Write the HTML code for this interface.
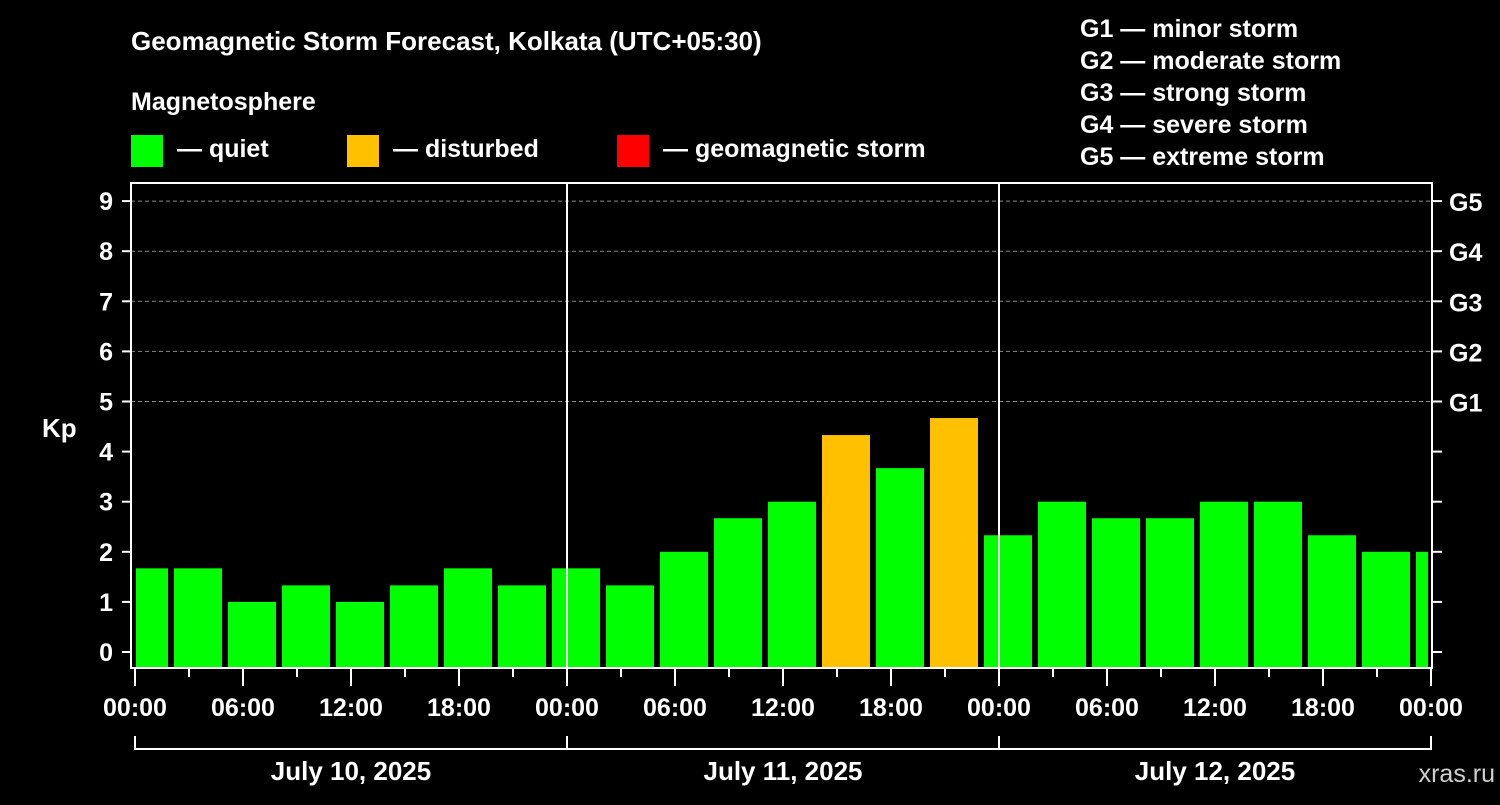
<!DOCTYPE html>
<html><head><meta charset="utf-8"><style>
body{margin:0;background:#000;}
svg text{font-family:"Liberation Sans",Arial,sans-serif;font-weight:bold;fill:#fff;}
</style></head><body>
<svg id="c" width="1500" height="800" xmlns="http://www.w3.org/2000/svg">
<rect width="1500" height="800" fill="#000"/>
<text x="131" y="50" font-size="26">Geomagnetic Storm Forecast, Kolkata (UTC+05:30)</text>
<text x="131" y="110" font-size="25">Magnetosphere</text>
<g><rect x="131" y="135" width="32" height="32" fill="#00ff00"/><text x="177" y="157" font-size="25">— quiet</text></g>
<g><rect x="347" y="135" width="32" height="32" fill="#ffc000"/><text x="393" y="157" font-size="25">— disturbed</text></g>
<g><rect x="617" y="135" width="32" height="32" fill="#ff0000"/><text x="663" y="157" font-size="25">— geomagnetic storm</text></g>
<g font-size="25">
<text x="1080" y="37">G1 — minor storm</text>
<text x="1080" y="69">G2 — moderate storm</text>
<text x="1080" y="101">G3 — strong storm</text>
<text x="1080" y="133">G4 — severe storm</text>
<text x="1080" y="165">G5 — extreme storm</text>
</g>
<text x="42" y="437" font-size="26">Kp</text>
<text x="1495" y="782" font-size="25" text-anchor="end" fill="#ccc" style="fill:#cfcfcf;font-weight:normal">xras.ru</text>
<g id="plot"></g>
</svg>
<script>
const kpValues=[1.67,1.67,1,1.33,1,1.33,1.67,1.33,1.67,1.33,2,2.67,3,4.33,3.67,4.67,2.33,3,2.67,2.67,3,3,2.33,2,2];
const kpLevels=[0,1,2,3,4,5,6,7,8,9];
const gLabels=[[5,'G1'],[6,'G2'],[7,'G3'],[8,'G4'],[9,'G5']];
const timeLabels=['00:00','06:00','12:00','18:00','00:00','06:00','12:00','18:00','00:00','06:00','12:00','18:00','00:00'];
const dayLabels=['July 10, 2025','July 11, 2025','July 12, 2025'];
const NS='http://www.w3.org/2000/svg';
const L=131,R=1432,T=183,B=668;
const x=h=>135+18*h;
const y=v=>652-50.1*v;
const g=document.getElementById('plot');
function mk(t,a){const e=document.createElementNS(NS,t);for(const k in a)e.setAttribute(k,a[k]);g.appendChild(e);return e;}
kpLevels.forEach(v=>{
  if(v>=5){const d=mk('line',{x1:L,x2:R,y1:y(v),y2:y(v),stroke:'#888','stroke-dasharray':'4,3','stroke-width':1});
  
  }
});
kpValues.forEach((v,i)=>{
  const h0=-1+3*i;let l=x(h0)+3,r=x(h0+3)-3;
  l=Math.max(l,136);r=Math.min(r,1428);
  const col=v>=5?'#ff0000':(v>=4?'#ffc000':'#00ff00');
  const b=mk('rect',{x:l,y:y(v),width:r-l,height:B-y(v),fill:col});
  
  
});
[1,2].forEach(d=>{const e=mk('line',{x1:x(24*d),x2:x(24*d),y1:T,y2:B,stroke:'#fff','stroke-width':2});

});
const fr=mk('rect',{x:L,y:T,width:R-L,height:B-T,fill:'none',stroke:'#fff','stroke-width':2});


kpLevels.forEach(v=>{
  mk('line',{x1:122,x2:L,y1:y(v),y2:y(v),stroke:'#fff','stroke-width':2});
  mk('line',{x1:R,x2:1442,y1:y(v),y2:y(v),stroke:'#fff','stroke-width':2});
  const t=mk('text',{x:113,y:y(v)+9,'font-size':25,'text-anchor':'end'});t.textContent=v;
  
  
});
gLabels.forEach(([v,s])=>{const t=mk('text',{x:1449,y:y(v)+10,'font-size':25});t.textContent=s;
  
  });
for(let h=0;h<=72;h+=3){mk('line',{x1:x(h),x2:x(h),y1:B,y2:h%6==0?686:677,stroke:'#fff','stroke-width':2});}
timeLabels.forEach((s,i)=>{const t=mk('text',{x:x(6*i),y:716,'font-size':25,'text-anchor':'middle'});t.textContent=s;
  
  });
dayLabels.forEach((s,i)=>{
  mk('path',{d:`M${x(24*i)},736V749H${x(24*i+24)}V736`,fill:'none',stroke:'#fff','stroke-width':2});
  const t=mk('text',{x:x(24*i+12),y:780,'font-size':26,'text-anchor':'middle'});t.textContent=s;
  
  
});
</script>
</body></html>
